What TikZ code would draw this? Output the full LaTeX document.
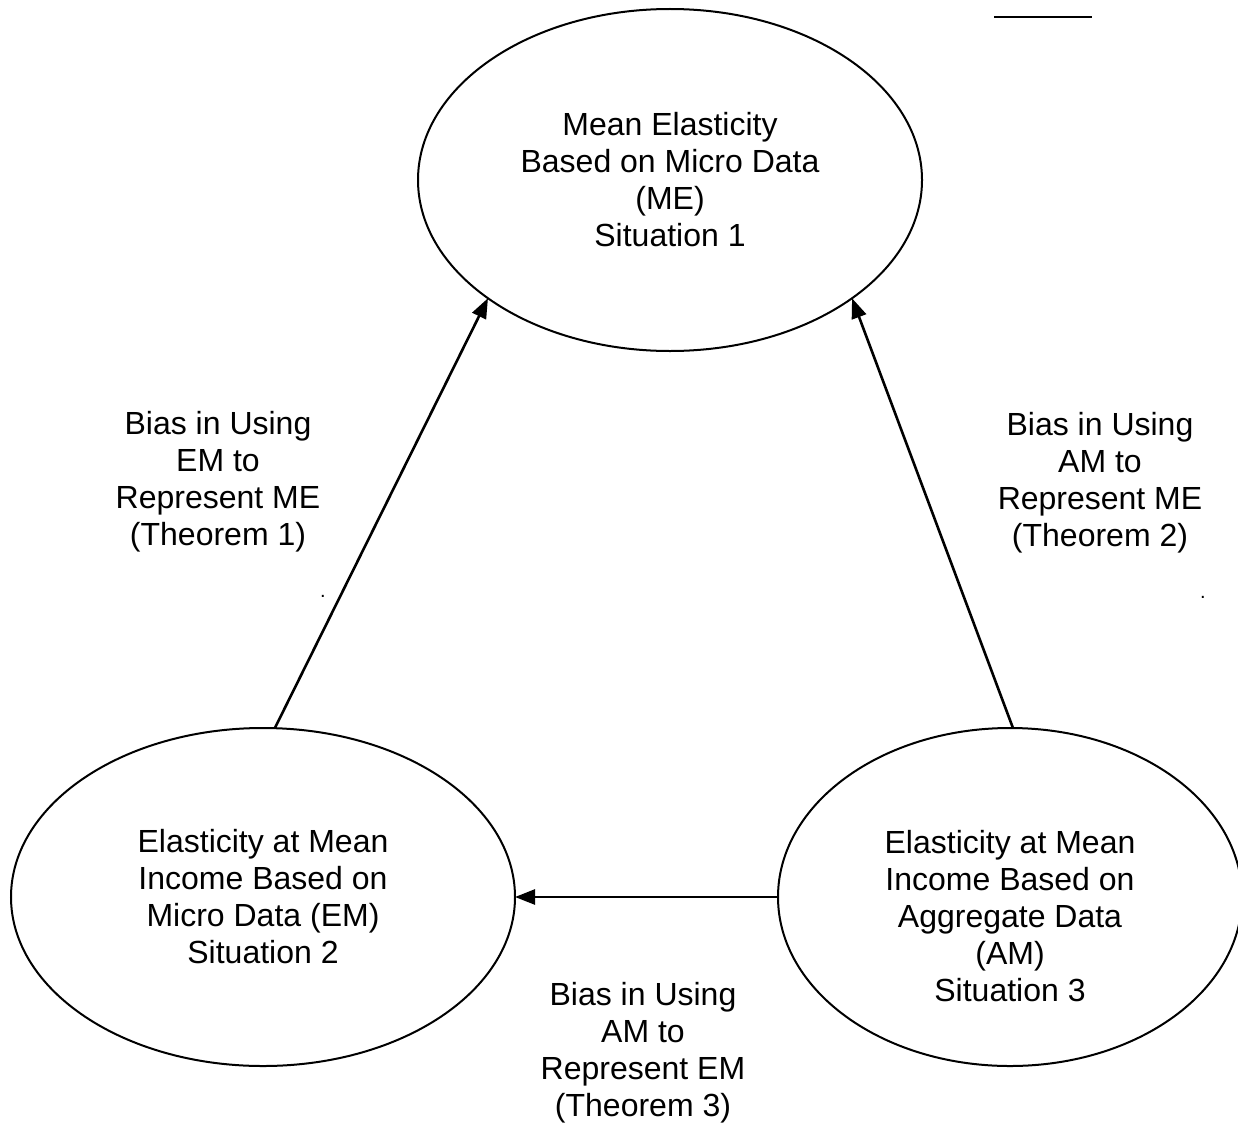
\documentclass[tikz,border=0pt]{standalone}
\usepackage{fontspec}
\setmainfont{Liberation Sans}
\usetikzlibrary{arrows.meta}
\usetikzlibrary{shapes.geometric}

\begin{document}
\begin{tikzpicture}[x=1pt,y=-1pt,
   situation/.style={draw,ellipse,line width=2pt,inner sep=0pt,outer sep=0pt},
   txt/.style={align=center,inner sep=0pt,font=\fontsize{32}{37}\selectfont},
   bias/.style={line width=2.6pt,-{Triangle[length=20pt,width=15pt]}}]
   \useasboundingbox (0,0) rectangle (1238,1129);
   \node[situation,minimum width=504pt,minimum height=342pt] (me) at (670,180) {};
   \node[situation,minimum width=504pt,minimum height=338pt] (em) at (263,897) {};
   \node[situation,minimum width=464pt,minimum height=338pt] (am) at (1010,897) {};
   \node[txt] (me_t) at (me) {Mean Elasticity\\Based on Micro Data\\(ME)\\Situation 1};
   \node[txt] (em_t) at (em) {Elasticity at Mean\\Income Based on\\Micro Data (EM)\\Situation 2};
   \node[txt] (am_t) at (1010,916) {Elasticity at Mean\\Income Based on\\Aggregate Data\\(AM)\\Situation 3};
   \node[txt] (b_1) at (218,482) {Bias in Using\\EM to\\Represent ME\\(Theorem 1)};
   \node[txt] (b_2) at (1100,483) {Bias in Using\\AM to\\Represent ME\\(Theorem 2)};
   \node[txt] (b_3) at (643,1053) {Bias in Using\\AM to\\Represent EM\\(Theorem 3)};
   \node[inner sep=0pt,font=\fontsize{20}{24}\selectfont] (d_1) at (323,596) {.};
   \node[inner sep=0pt,font=\fontsize{20}{24}\selectfont] (d_2) at (1203,597) {.};
    \path[bias]
    (em.86) edge (me.213)
    (am.89) edge (me.327)
    (am.west) edge (em.east);
   \draw[line width=2.4pt] (994,17) -- (1092,17);
\end{tikzpicture}
\end{document}
